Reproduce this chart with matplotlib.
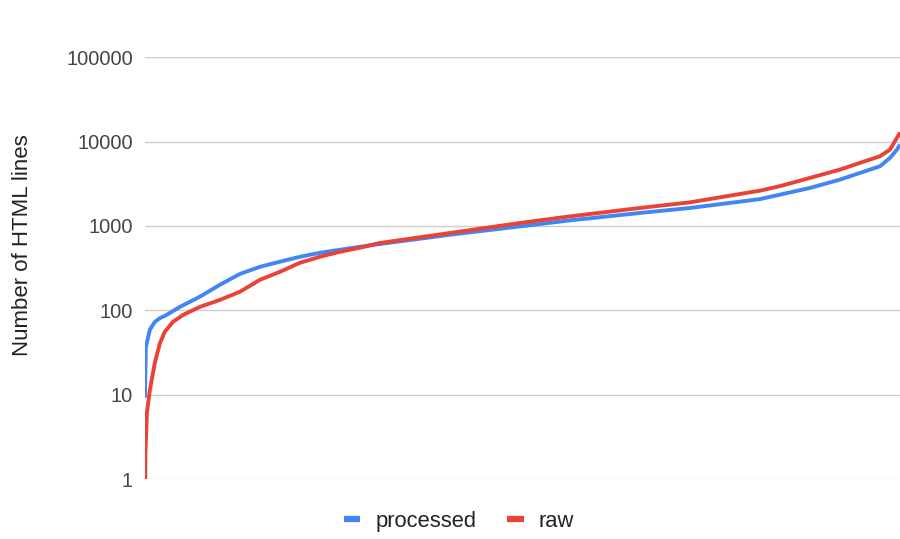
import numpy as np
import matplotlib.pyplot as plt
from matplotlib.ticker import FixedLocator, NullLocator

plt.rcParams['font.family'] = ['Liberation Sans', 'DejaVu Sans']

# share of pages (percent, sorted by size) -> number of HTML lines
processed_pct = [0, 0.13, 0.66, 1.32, 1.99, 2.65, 4.64, 7.28, 9.93, 12.58, 15.23,
                 17.88, 20.53, 23.18, 25.83, 28.48, 31.13, 40.4, 49.67, 56.29,
                 65.56, 72.19, 81.46, 84.11, 88.08, 92.05, 94.7, 97.35, 98.68,
                 99.6, 100]
processed = [9.2, 37, 59, 73, 81, 86, 110, 145, 201, 270, 328,
             377, 431, 481, 522, 567, 611, 787, 988, 1164,
             1425, 1633, 2080, 2350, 2820, 3540, 4250, 5094, 6410,
             8035, 9200]

raw_pct = [0, 0.05, 0.07, 0.26, 0.66, 1.32, 1.99, 2.65, 3.71, 5.03, 7.28, 9.93,
           12.58, 15.23, 17.88, 20.53, 23.18, 25.83, 28.48, 31.13, 40.4, 49.67,
           56.29, 65.56, 72.19, 81.46, 84.11, 88.08, 92.05, 94.7, 97.35, 98.68,
           99.6, 100]
raw = [1, 1, 2, 6.1, 11.4, 24, 41, 56, 73, 88, 110, 133,
       166, 230, 286, 366, 431, 495, 552, 628, 825, 1084,
       1298, 1633, 1904, 2620, 2964, 3708, 4652, 5588, 6696, 8035,
       11070, 12800]

y_ticks = [1, 10, 100, 1000, 10000, 100000]

fig = plt.figure(figsize=(9, 5.39), dpi=100)
ax = fig.add_axes([0.161, 0.111, 0.839, 0.783])

ax.plot(processed_pct, processed, color='#4285F4', lw=2.8, label='processed',
        solid_capstyle='butt', zorder=3)
ax.plot(raw_pct, raw, color='#EA4335', lw=2.8, label='raw',
        solid_capstyle='butt', zorder=4)

ax.set_yscale('log')
ax.set_ylim(1, 100000)
ax.set_xlim(0, 100)
ax.yaxis.set_major_locator(FixedLocator(y_ticks))
ax.yaxis.set_minor_locator(NullLocator())
ax.set_yticklabels([str(t) for t in y_ticks])
ax.set_xticks([])
ax.tick_params(axis='y', length=0, pad=8.5, labelsize=14.4, labelcolor='#444444')
ax.grid(axis='y', color='#cccccc', lw=1)
ax.set_axisbelow(True)
for s in ax.spines.values():
    s.set_visible(False)

fig.text(0.025, 0.545, 'Number of HTML lines', rotation=90, ha='center', va='center',
         fontsize=16, color='#222222')

leg = fig.legend(loc='center', bbox_to_anchor=(0.51, 0.033), ncol=2, frameon=False,
                 fontsize=15.8, handlelength=0.75, handletextpad=0.7, columnspacing=1.4)
for h in leg.legend_handles:
    h.set_linewidth(4.5)
for t in leg.get_texts():
    t.set_color('#222222')

fig.savefig('out.png', dpi=100)
